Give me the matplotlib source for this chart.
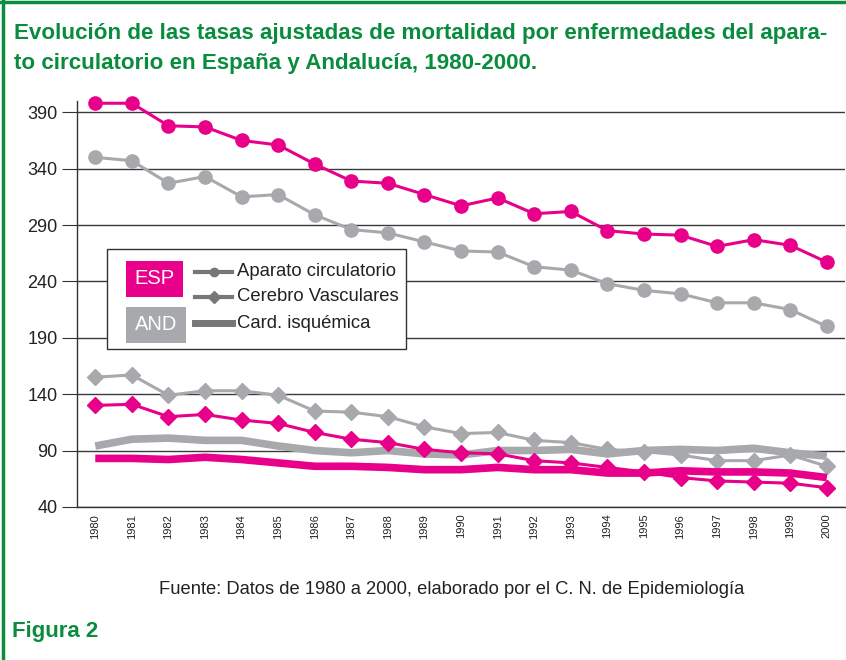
import numpy as np
import matplotlib.pyplot as plt
from matplotlib.patches import Rectangle
from matplotlib.lines import Line2D

years = list(range(1980, 2001))

# Tasas ajustadas (por 100.000)
esp_aparato = [398, 398, 378, 377, 365, 361, 344, 329, 327, 317, 307,
               314, 300, 302, 285, 282, 281, 271, 277, 272, 257]
and_aparato = [350, 347, 327, 333, 315, 317, 299, 286, 283, 275, 267,
               266, 253, 250, 238, 232, 229, 221, 221, 215, 200]
esp_cerebro = [130, 131, 120, 122, 117, 114, 106, 100, 97, 91, 88,
               87, 81, 79, 75, 71, 66, 63, 62, 61, 57]
and_cerebro = [155, 157, 139, 143, 143, 139, 125, 124, 120, 111, 105,
               106, 99, 97, 91, 89, 86, 81, 81, 86, 76]
esp_card = [83, 83, 82, 84, 82, 79, 76, 76, 75, 73, 73,
            75, 73, 73, 70, 70, 72, 71, 71, 70, 66]
and_card = [94, 100, 101, 99, 99, 94, 90, 88, 90, 87, 86,
            90, 90, 91, 87, 90, 91, 90, 92, 88, 85]

yticks = [40, 90, 140, 190, 240, 290, 340, 390]

PINK = '#e8008a'
GRAY = '#a7a9ac'
GREEN = '#0a8c3f'
NARROW = ['Liberation Sans Narrow', 'Liberation Sans', 'DejaVu Sans']

plt.rcParams['font.family'] = ['Liberation Sans', 'DejaVu Sans']

fig = plt.figure(figsize=(8.46, 6.6), dpi=100)
ax = fig.add_axes([0.091, 0.232, 0.908, 0.615])

# series: gray (Andalucia) first, pink (Espana) on top
ax.plot(years, and_card, color=GRAY, lw=5.5, solid_capstyle='butt', zorder=2)
ax.plot(years, and_cerebro, color=GRAY, lw=2.2, marker='D', ms=8, zorder=3)
ax.plot(years, and_aparato, color=GRAY, lw=2.2, marker='o', ms=9.5, zorder=3)
ax.plot(years, esp_card, color=PINK, lw=5.5, solid_capstyle='butt', zorder=4)
ax.plot(years, esp_cerebro, color=PINK, lw=2.2, marker='D', ms=8, zorder=5)
ax.plot(years, esp_aparato, color=PINK, lw=2.2, marker='o', ms=9.5, zorder=5, clip_on=False)

ax.set_xlim(1979.5, 2000.5)
ax.set_ylim(40, 400)
ax.set_yticks(yticks)
ax.set_xticks(years)
ax.set_xticklabels([str(y) for y in years], rotation=90, fontsize=8,
                   family=NARROW, color='#222')
ax.tick_params(axis='y', labelsize=13, length=11, color='#333', labelcolor='#222', pad=3)
ax.tick_params(axis='x', length=0, pad=5)
ax.grid(axis='y', color='#3a3a3a', lw=1)
ax.set_axisbelow(True)
for s in ['top', 'right']:
    ax.spines[s].set_visible(False)
for s in ['left', 'bottom']:
    ax.spines[s].set_color('#333')
    ax.spines[s].set_linewidth(1)

# custom legend box (pixel coordinates converted to figure fraction)
W, H = 846, 660


def fx(px):
    return px / W


def fy(py):
    return 1 - py / H


fig.patches.append(Rectangle((fx(107), fy(349)), fx(406) - fx(107), fy(249) - fy(349),
                             transform=fig.transFigure, facecolor='white',
                             edgecolor='#333', lw=1, zorder=10))
fig.patches.append(Rectangle((fx(126), fy(297)), fx(183) - fx(126), fy(261) - fy(297),
                             transform=fig.transFigure, facecolor=PINK, edgecolor='none', zorder=11))
fig.patches.append(Rectangle((fx(126), fy(343)), fx(186) - fx(126), fy(307) - fy(343),
                             transform=fig.transFigure, facecolor=GRAY, edgecolor='none', zorder=11))
fig.text(fx(154.5), fy(279), 'ESP', color='white', fontsize=14.5, ha='center', va='center', zorder=12)
fig.text(fx(156), fy(325), 'AND', color='white', fontsize=14.5, ha='center', va='center', zorder=12)

LEG = '#777777'
legend_rows = [('Aparato circulatorio', 'o', 3, 272),
               ('Cerebro Vasculares', 'D', 3, 297),
               ('Card. isquémica', None, 5, 323)]
for label, mk, lw, py in legend_rows:
    fig.add_artist(Line2D([fx(195), fx(232)], [fy(py), fy(py)], transform=fig.transFigure,
                          color=LEG, lw=lw, zorder=12))
    if mk:
        fig.add_artist(Line2D([fx(213.5)], [fy(py)], transform=fig.transFigure, color=LEG,
                              marker=mk, ms=6 if mk == 'o' else 6.5, ls='none', zorder=13))
    fig.text(fx(237), fy(py), label, fontsize=13.3, color='#222', va='center', zorder=12)

# titles and captions
fig.text(fx(14), fy(33), 'Evolución de las tasas ajustadas de mortalidad por enfermedades del apara-',
         color=GREEN, fontsize=16.1, fontweight='bold', family=NARROW, va='center')
fig.text(fx(14), fy(63), 'to circulatorio en España y Andalucía, 1980-2000.',
         color=GREEN, fontsize=16.1, fontweight='bold', family=NARROW, va='center')
fig.text(fx(452), fy(589), 'Fuente: Datos de 1980 a 2000, elaborado por el C. N. de Epidemiología',
         color='#222', fontsize=13.2, ha='center', va='center')
fig.text(fx(12), fy(632), 'Figura 2', color=GREEN, fontsize=16, fontweight='bold',
         family=NARROW, va='center')

# green frame: top and left edges
fig.add_artist(Line2D([0, 1], [fy(2), fy(2)], transform=fig.transFigure, color=GREEN, lw=2.5))
fig.add_artist(Line2D([fx(3), fx(3)], [0, 1], transform=fig.transFigure, color=GREEN, lw=2.5))

fig.savefig('out.png', dpi=100)
